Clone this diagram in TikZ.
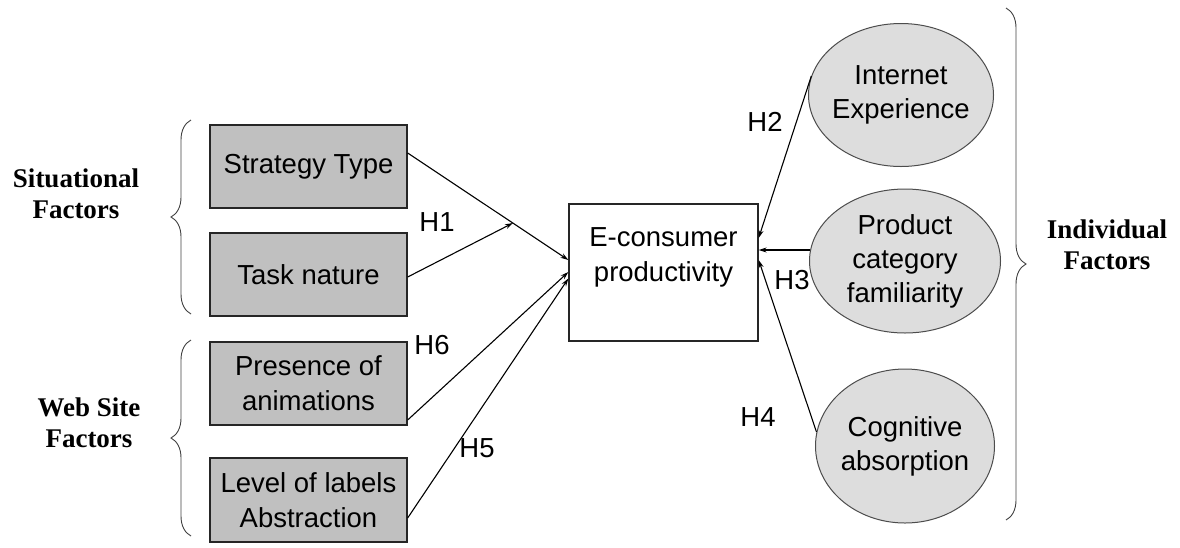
\documentclass[tikz,border=0pt]{standalone}
\usepackage{fontspec}
\setmainfont{Liberation Sans}
\newfontfamily\serifb{Liberation Serif}
\usetikzlibrary{shapes.geometric,arrows.meta,decorations.pathreplacing,calc}
\definecolor{boxgray}{HTML}{C0C0C0}
\definecolor{ellgray}{HTML}{DDDDDD}
\begin{document}
\begin{tikzpicture}[x=1pt,y=-1pt,
  txt/.style={font=\fontsize{27.5}{35}\selectfont, align=center},
  fbox/.style={txt, draw=black!85, fill=boxgray, line width=1.3pt, minimum width=197pt, minimum height=83pt, inner sep=0pt},
  fell/.style={txt, font=\fontsize{27.5}{34}\selectfont, ellipse, draw=black!70, fill=ellgray, line width=1pt, inner xsep=-4pt, inner ysep=0pt},
  arr/.style={-{Stealth[length=8pt,width=5pt]}, line width=1.1pt},
  hlab/.style={font=\fontsize{27.5}{32}\selectfont},
  grp/.style={font=\serifb\bfseries\fontsize{27}{31}\selectfont, align=center},
  brc/.style={decorate, decoration={brace, amplitude=20pt}, line width=0.9pt, black!75},
]
\useasboundingbox (0,0) rectangle (1180,547);

% left boxes
\node[fbox] (st) at (308.5,166.5) {Strategy Type};
\node[fbox] (tn) at (308.5,274.5) {Task nature};
\node[fbox] (pa) at (308.5,383.5) {Presence of\\animations};
\node[fbox, minimum height=84pt] (ll) at (308.5,500) {Level of labels\\Abstraction};

% central box
\node[draw=black!85, line width=1.3pt, minimum width=189pt, minimum height=137pt] (ec) at (663.5,272.5) {};
\node[txt] (ect) at (663.5,257) {E-consumer\\productivity};

% ellipses
\node[fell, minimum width=185pt, minimum height=143pt] (ie) at (901,95) {Internet\\Experience};
\node[fell, minimum width=191pt, minimum height=144pt] (pc) at (905,261) {Product\\category\\familiarity};
\node[fell, minimum width=179pt, minimum height=154pt] (ca) at (905,446) {Cognitive\\absorption};

% merge point
\coordinate (m) at (513,223);

% left arrows
\draw[arr] ($(st.east)+(0,-13.5)$) -- ($(ec.west)+(0,-12.5)$);
\draw[arr] ($(tn.east)+(0,2.5)$) -- (m);
\draw[arr] ($(pa.east)+(0,36.5)$) -- ($(ec.west)+(0,-0.5)$);
\draw[arr] ($(ll.east)+(0,18)$) -- ($(ec.west)+(0,6)$);

% right arrows
\draw[arr] (ie.168) -- ($(ec.east)+(0,-34.5)$);
\draw[arr] ($(pc.west)+(1,-11)$) -- ($(ec.east)+(0,-22.5)$);
\draw[arr] (ca.171) -- ($(ec.east)+(0,-12.5)$);

% hypothesis labels
\node[hlab] (h1) at (437,222) {H1};
\node[hlab] (h2) at (765,122) {H2};
\node[hlab] (h3) at (792,280) {H3};
\node[hlab] (h4) at (758,417) {H4};
\node[hlab] (h5) at (477,448) {H5};
\node[hlab] (h6) at (432,345) {H6};

% braces
\draw[brc] (191,314) -- (191,120);
\draw[brc] (191,536) -- (191,340);
\draw[brc] (1006,8) -- (1006,520);

% group labels
\node[grp] (sf) at (76,194) {Situational\\Factors};
\node[grp] (wf) at (89,423) {Web Site\\Factors};
\node[grp] (if) at (1107,245) {Individual\\Factors};
\end{tikzpicture}
\end{document}
